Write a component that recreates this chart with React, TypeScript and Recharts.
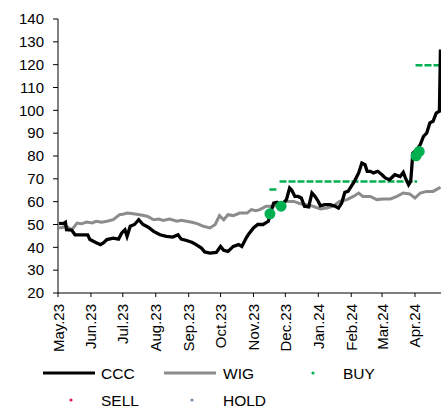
import React from "react";
import { ComposedChart, Line, Scatter, XAxis, YAxis } from "recharts";

// x values are days since 2023-05-01
const cccDays = [1,5,7,8,13,16,21,28,30,36,40,43,46,52,57,60,63,65,68,72,76,80,85,90,96,102,108,113,116,121,126,130,135,138,143,149,153,156,160,165,170,173,177,179,184,188,193,198,200,203,206,209,212,215,218,220,223,226,229,232,236,239,242,245,247,251,256,261,264,267,270,273,276,279,283,286,289,291,294,297,301,305,308,312,317,322,325,327,330,332,334,338,341,344,347,350,353,356,359,360];
const cccValues = [50.5,50.4,51,47.7,47.5,45.5,45.5,45.5,43.4,42,41.2,42,43.4,44,43.6,46.3,47.7,44.8,49.2,50,52.1,50,48.8,47,45.5,44.8,44.5,45.5,43.6,43,42.2,41.2,39.7,38,37.5,37.8,40.4,38.7,38.2,40.4,41.2,40.4,44,45.5,48.5,50,50,51.4,55,59.4,59.7,58.7,59.4,60.9,66,65,62.3,62.3,61.6,58,57.7,63.8,62.3,60.1,58.2,58.7,58.7,58,57.2,59.4,64.1,64.5,66.7,68.9,72.6,76.9,76.2,73.3,73.3,72.6,73.3,71.8,70.4,69.6,71.8,71,72.8,70.4,67.4,68.9,81.3,82.8,85,88.6,90,94.5,95.2,98.8,99.6,126.6];

const wigDays = [1,5,8,13,18,22,27,32,36,41,46,52,58,62,65,71,77,84,90,95,99,105,112,116,121,126,131,137,143,148,152,156,160,165,171,178,182,186,190,196,203,209,215,222,228,234,240,247,253,259,265,272,278,283,287,294,300,306,313,319,325,331,336,341,347,353,360];
const wigValues = [48.5,48.8,49.2,47.7,50.6,50.3,51.1,50.7,51.4,51,51.4,52.1,54.3,54.6,55,54.7,54.3,53.6,52.1,52.4,51.8,52.4,51.4,51.8,51.4,51,50.4,49.2,48.5,50,53.9,52.1,54.3,53.9,55,55,56.5,56,56.5,58,58,59.1,60.1,60.1,59.1,58.7,58,56.8,57.2,58,60.1,60.9,62.3,63.8,62.3,62.3,60.9,61.2,61.2,62.3,63.8,63.4,61.6,63.8,64.5,64.5,66.3];

const buyTargetA = [{ day: 199, v: 65.3 }, { day: 207.5, v: 65.3 }];
const buyTargetB = [{ day: 208.5, v: 68.8 }, { day: 338, v: 68.8 }];
const buyTargetC = [{ day: 336.5, v: 119.7 }, { day: 360.5, v: 119.7 }];
const buyDays = [199.5, 210, 337, 340];
const buyPrices = [54.7, 58, 80.1, 82];

const monthTicks = [0, 31, 61, 92, 123, 153, 184, 214, 245, 276, 305, 336];
const monthLabels = ["May.23","Jun.23","Jul.23","Aug.23","Sep.23","Oct.23","Nov.23","Dec.23","Jan.24","Feb.24","Mar.24","Apr.24"];
const yTicks = [20,30,40,50,60,70,80,90,100,110,120,130,140];

const ccc = cccDays.map((d, i) => ({ day: d, v: cccValues[i] }));
const wig = wigDays.map((d, i) => ({ day: d, v: wigValues[i] }));
const buys = buyDays.map((d, i) => ({ day: d, v: buyPrices[i] }));

const FONT = "'Liberation Sans', Arial, sans-serif";
const GREEN = "#00b050";

const XTick = (props: any) => {
  const { x, y, payload } = props;
  const idx = monthTicks.indexOf(payload.value);
  return (
    <g transform={`translate(${x},${y + 5})`}>
      <text transform="rotate(-90)" textAnchor="end" dominantBaseline="central" fontSize={15} fontFamily={FONT} fill="#000">
        {monthLabels[idx]}
      </text>
    </g>
  );
};

const Dot = (props: any) => {
  const { cx, cy } = props;
  return <circle cx={cx} cy={cy} r={5.5} fill={GREEN} />;
};

const LegendBox = () => (
  <svg width={441} height={60} style={{ position: "absolute", left: 0, top: 350 }}>
    <g fontFamily={FONT} fontSize={15.5} fill="#000">
      <line x1={43} x2={95} y1={23} y2={23} stroke="#000" strokeWidth={3} />
      <text x={101} y={23} dominantBaseline="central">CCC</text>
      <line x1={164} x2={216} y1={23} y2={23} stroke="#8c8c8c" strokeWidth={3} />
      <text x={223} y={23} dominantBaseline="central">WIG</text>
      <circle cx={313} cy={23} r={1.6} fill={GREEN} />
      <text x={343} y={23} dominantBaseline="central">BUY</text>
      <circle cx={71} cy={50} r={1.6} fill="#e0185a" />
      <text x={101} y={50} dominantBaseline="central">SELL</text>
      <circle cx={192} cy={50} r={1.6} fill="#6e8fae" />
      <text x={223} y={50} dominantBaseline="central">HOLD</text>
    </g>
  </svg>
);

export default function App() {
  return (
    <div style={{ position: "absolute", left: 0, top: 0, width: 441, height: 407, background: "#fff" }}>
      <ComposedChart width={441} height={407} margin={{ top: 19, right: 0, left: 0, bottom: 0 }}>
        <XAxis
          type="number"
          dataKey="day"
          domain={[0, 360.5]}
          ticks={monthTicks}
          tick={<XTick />}
          tickSize={4}
          interval={0}
          height={114}
          axisLine={{ stroke: "#000" }}
          tickLine={{ stroke: "#000" }}
          allowDataOverflow
        />
        <YAxis
          type="number"
          domain={[20, 140]}
          ticks={yTicks}
          width={58}
          interval={0}
          tickSize={5}
          tickMargin={9}
          axisLine={{ stroke: "#000" }}
          tickLine={{ stroke: "#000" }}
          tick={{ fontSize: 15, fontFamily: FONT, fill: "#000" }}
        />
        <Line data={wig} dataKey="v" stroke="#8c8c8c" strokeWidth={3} dot={false} isAnimationActive={false} type="linear" />
        <Line data={buyTargetA} dataKey="v" stroke={GREEN} strokeWidth={2.5} strokeDasharray="7 2" dot={false} isAnimationActive={false} type="linear" />
        <Line data={buyTargetB} dataKey="v" stroke={GREEN} strokeWidth={2.5} strokeDasharray="7 2" dot={false} isAnimationActive={false} type="linear" />
        <Line data={buyTargetC} dataKey="v" stroke={GREEN} strokeWidth={2.5} strokeDasharray="7 2" dot={false} isAnimationActive={false} type="linear" />
        <Line data={ccc} dataKey="v" stroke="#000" strokeWidth={3.3} dot={false} isAnimationActive={false} type="linear" />
        <Scatter data={buys} dataKey="v" shape={<Dot />} isAnimationActive={false} />
      </ComposedChart>
      <LegendBox />
    </div>
  );
}
